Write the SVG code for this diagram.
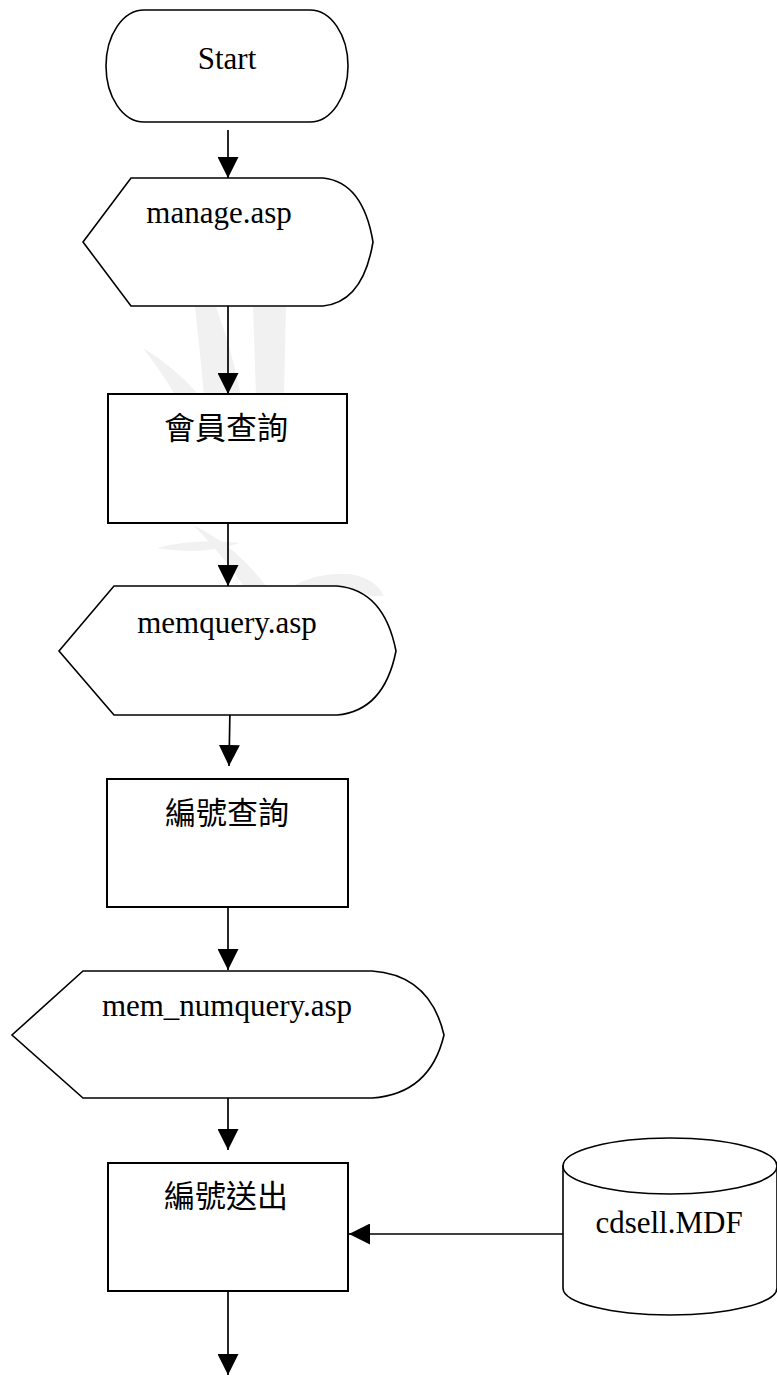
<svg xmlns="http://www.w3.org/2000/svg" width="777" height="1376" viewBox="0 0 777 1376">
<style>
.shape{fill:#fff;stroke:#000;stroke-width:1.6}
.box{fill:#fff;stroke:#000;stroke-width:2}
.lat{font-family:"Liberation Serif","Times New Roman",serif;font-size:31px;fill:#000;text-anchor:middle}
.cjk{font-family:"Noto Sans CJK TC","Noto Sans CJK SC",sans-serif;font-size:31px;fill:#000;text-anchor:middle}
.conn{stroke:#000;stroke-width:1.7;fill:none;marker-end:url(#ah)}
.wm{fill:#f1f1f1;stroke:none}
</style>
<defs>
<marker id="ah" markerUnits="userSpaceOnUse" markerWidth="22" markerHeight="21" refX="21" refY="10.5" orient="auto">
<path d="M0,0 L21,10.5 L0,21 Z" fill="#000"/>
</marker>
</defs>
<rect width="777" height="1376" fill="#fff"/>
<g id="watermark">
<path class="wm" d="M195,307 L216,307 Q232,350 241,396 L204,396 Q200,350 195,307 Z"/>
<path class="wm" d="M253,307 L286,307 L284,396 L256,396 Z"/>
<path class="wm" d="M143,348 Q172,365 200,396 L176,396 Q160,370 143,348 Z"/>
<path class="wm" d="M157,548 Q195,538 240,543 Q200,556 157,548 Z"/>
<path class="wm" d="M193,525 Q235,545 266,586 L244,586 Q220,552 193,525 Z"/>
<path class="wm" d="M293,586 Q318,572 350,574 Q375,578 384,596 L370,596 Q350,584 320,586 Z"/>
</g>
<g id="connectors">
<line class="conn" x1="228" y1="130" x2="228" y2="178"/>
<line class="conn" x1="228" y1="298" x2="228" y2="394"/>
<line class="conn" x1="228" y1="514" x2="228" y2="586"/>
<line class="conn" x1="230" y1="707" x2="229" y2="766"/>
<line class="conn" x1="228" y1="899" x2="228" y2="970"/>
<line class="conn" x1="228" y1="1091" x2="228" y2="1150"/>
<line class="conn" x1="228" y1="1283" x2="228" y2="1375"/>
<line class="conn" x1="564" y1="1234" x2="349" y2="1234"/>
</g>
<g id="start">
<rect class="shape" x="106" y="10" width="242" height="112" rx="38" ry="56"/>
<text class="lat" x="227" y="69">Start</text>
</g>
<g id="manage">
<path class="shape" d="M131,178 L323,178 Q363,182 373,242 Q363,302 323,306 L131,306 L83,242 Z"/>
<text class="lat" x="219" y="223">manage.asp</text>
</g>
<g id="member-query">
<rect class="box" x="108" y="394" width="239" height="129"/>
<text class="cjk" x="226" y="439">會員查詢</text>
</g>
<g id="memquery">
<path class="shape" d="M114,586 L337,586 Q384,590 396,651 Q384,711 337,715 L114,715 L59,651 Z"/>
<text class="lat" x="227" y="633">memquery.asp</text>
</g>
<g id="number-query">
<rect class="box" x="107" y="779" width="241" height="128"/>
<text class="cjk" x="227" y="824">編號查詢</text>
</g>
<g id="mem-numquery">
<path class="shape" d="M83,971 L372,971 Q430,975 444,1035 Q430,1094 372,1098 L83,1098 L12,1035 Z"/>
<text class="lat" x="227" y="1016">mem_numquery.asp</text>
</g>
<g id="number-send">
<rect class="box" x="108" y="1163" width="240" height="128"/>
<text class="cjk" x="226" y="1207">編號送出</text>
</g>
<g id="cdsell">
<path class="shape" d="M563,1166 L563,1288 A107,27 0 0 0 777,1288 L777,1166 Z"/>
<ellipse class="shape" cx="670" cy="1166" rx="107" ry="28"/>
<text class="lat" x="669" y="1233">cdsell.MDF</text>
</g>
</svg>
